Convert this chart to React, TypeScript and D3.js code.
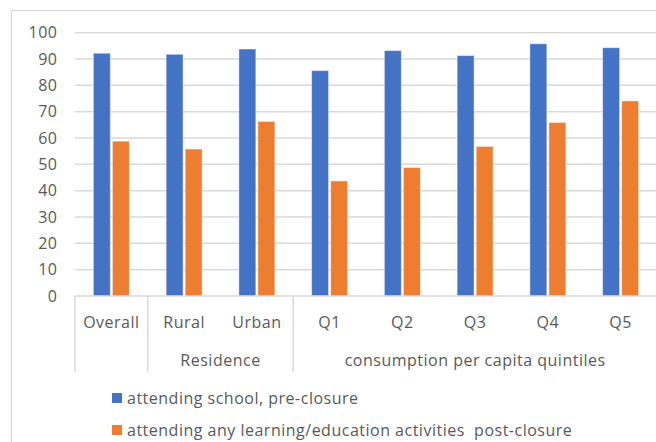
import React from "react";
import * as d3 from "d3";

// Categories on the first axis level, and the groups they belong to
const categories = ["Overall", "Rural", "Urban", "Q1", "Q2", "Q3", "Q4", "Q5"];
const groups = [
  { label: "", members: ["Overall"] },
  { label: "Residence", members: ["Rural", "Urban"] },
  { label: "consumption per capita quintiles", members: ["Q1", "Q2", "Q3", "Q4", "Q5"] },
];

// Percent of children in each category
const preClosure = [92.2, 91.8, 93.8, 85.6, 93.2, 91.3, 95.8, 94.3];
const postClosure = [58.8, 55.8, 66.3, 43.7, 48.8, 56.8, 65.9, 74.1];

const seriesNames = [
  "attending school, pre-closure",
  "attending any learning/education activities  post-closure",
];
const seriesColors = ["#4472c4", "#ed7d31"];

const yTicks = [0, 10, 20, 30, 40, 50, 60, 70, 80, 90, 100];

const W = 656;
const H = 442;
const FONT = "'Open Sans', 'Noto Sans', sans-serif";
const FS = 16;
const LS = 0.5;
const TEXT = "#595959";
const GRID = "#d9d9d9";

export default function App() {
  const x = d3.scaleBand<string>().domain(categories).range([75, 657]).padding(0);
  const y = d3.scaleLinear().domain([0, 100]).range([296, 32.7]);
  const inner = d3
    .scaleBand<string>()
    .domain(["pre", "post"])
    .range([-18, 18])
    .paddingInner(0.11);

  const axisY = y(0);
  const dividerBottom = 372;

  // boundaries between groups on the category axis
  const boundaries: number[] = [x(categories[0])!];
  groups.forEach((g) => {
    const last = g.members[g.members.length - 1];
    boundaries.push(x(last)! + x.bandwidth());
  });

  const series = [preClosure, postClosure];
  const keys = ["pre", "post"];

  return (
    <svg
      width={W}
      height={H}
      style={{ position: "fixed", left: 0, top: 0, background: "#fff" }}
      fontFamily={FONT}
      letterSpacing={LS}
    >
      <rect x={0} y={0} width={W} height={H} fill="#fff" />
      {/* chart frame */}
      <rect x={11.5} y={10.5} width={W + 20} height={H + 20} fill="none" stroke={GRID} strokeWidth={1.2} />

      {/* gridlines */}
      {yTicks.map((t) =>
        t === 0 ? null : (
          <line key={t} x1={75} x2={W + 2} y1={y(t)} y2={y(t)} stroke={GRID} strokeWidth={1.5} />
        )
      )}

      {/* y tick labels */}
      {yTicks.map((t) => (
        <text
          key={t}
          x={57.5}
          y={y(t)}
          dy="0.36em"
          textAnchor="end"
          fontSize={FS}
          fill={TEXT}
        >
          {t}
        </text>
      ))}

      {/* bars */}
      {series.map((vals, si) =>
        categories.map((c, i) => {
          const cx = x(c)! + x.bandwidth() / 2;
          const bx = cx + inner(keys[si])!;
          return (
            <rect
              key={`${si}-${c}`}
              x={bx}
              y={y(vals[i])}
              width={inner.bandwidth()}
              height={axisY - y(vals[i])}
              fill={seriesColors[si]}
              stroke="#ffffff"
              strokeOpacity={0.45}
              strokeWidth={1}
            />
          );
        })
      )}

      {/* category axis */}
      <line x1={75} x2={W + 2} y1={axisY} y2={axisY} stroke={GRID} strokeWidth={1.5} />
      {boundaries.map((b, i) => (
        <line key={i} x1={b} x2={b} y1={axisY} y2={dividerBottom} stroke={GRID} strokeWidth={1.5} />
      ))}

      {categories.map((c) => (
        <text
          key={c}
          x={x(c)! + x.bandwidth() / 2}
          y={328}
          textAnchor="middle"
          fontSize={FS}
          fill={TEXT}
        >
          {c}
        </text>
      ))}

      {groups.map((g) =>
        g.label ? (
          <text
            key={g.label}
            x={(x(g.members[0])! + x(g.members[g.members.length - 1])! + x.bandwidth()) / 2}
            y={366}
            textAnchor="middle"
            fontSize={FS}
            fill={TEXT}
          >
            {g.label}
          </text>
        ) : null
      )}

      {/* legend */}
      {seriesNames.map((name, i) => (
        <g key={name} transform={`translate(112, ${393 + i * 32})`}>
          <rect x={0} y={0} width={10} height={10} fill={seriesColors[i]} />
          <text x={15} y={10.5} fontSize={FS} fill={TEXT} style={{ whiteSpace: "pre" }}>
            {name}
          </text>
        </g>
      ))}
    </svg>
  );
}
